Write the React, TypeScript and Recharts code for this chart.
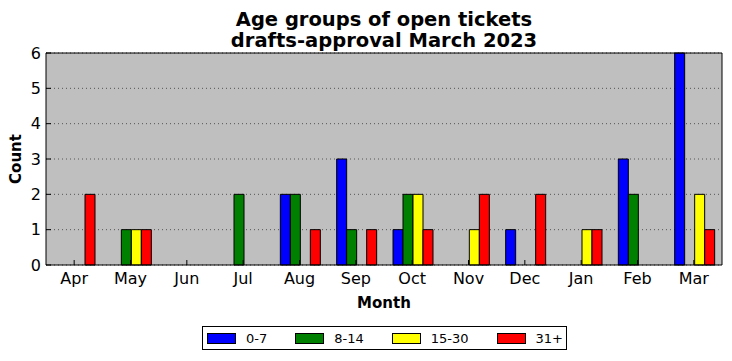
import React from 'react';
import { BarChart, Bar, XAxis, YAxis, CartesianGrid, Label } from 'recharts';

const months = ['Apr', 'May', 'Jun', 'Jul', 'Aug', 'Sep', 'Oct', 'Nov', 'Dec', 'Jan', 'Feb', 'Mar'];
const age0to7 = [0, 0, 0, 0, 2, 3, 1, 0, 1, 0, 3, 6];
const age8to14 = [0, 1, 0, 2, 2, 1, 2, 0, 0, 0, 2, 0];
const age15to30 = [0, 1, 0, 0, 0, 0, 2, 1, 0, 1, 0, 2];
const age31plus = [2, 1, 0, 0, 1, 1, 1, 2, 2, 1, 0, 1];
const yTicks = [0, 1, 2, 3, 4, 5, 6];

const series = [
  { key: 'a', name: '0-7', color: '#0000ff' },
  { key: 'b', name: '8-14', color: '#008000' },
  { key: 'c', name: '15-30', color: '#ffff00' },
  { key: 'd', name: '31+', color: '#ff0000' },
];

const data = months.map((m, i) => ({
  month: m,
  a: age0to7[i],
  b: age8to14[i],
  c: age15to30[i],
  d: age31plus[i],
}));

const font = 'DejaVu Sans, sans-serif';
const tickStyle = { fill: '#000', fontSize: 16, fontFamily: font };

const App: React.FC = () => {
  return (
    <div style={{ position: 'absolute', left: 0, top: 0, width: 732, height: 361, fontFamily: font, background: '#fff' }}>
      <div
        style={{
          position: 'absolute',
          left: 0,
          top: 9,
          width: 768,
          textAlign: 'center',
          fontWeight: 'bold',
          fontSize: 19.5,
          lineHeight: '21px',
          color: '#000',
        }}
      >
        Age groups of open tickets
        <br />
        drafts-approval March 2023
      </div>
      <BarChart
        width={732}
        height={361}
        data={data}
        margin={{ top: 52, right: 9, bottom: 56, left: 0 }}
        barCategoryGap={9}
        barGap={0}
      >
        <CartesianGrid fill="#bfbfbf" vertical={false} stroke="#555" strokeDasharray="1 3" />
        <XAxis
          dataKey="month"
          height={40}
          interval={0}
          axisLine={{ stroke: '#000' }}
          tickLine={{ stroke: '#000' }}
          tickSize={-5}
          tickMargin={13}
          tick={tickStyle}
        >
          <Label
            content={({ viewBox }: any) => (
              <text
                x={viewBox.x + viewBox.width / 2}
                y={308}
                textAnchor="middle"
                fontWeight="bold"
                fontSize={15}
                fontFamily={font}
                fill="#000"
              >
                Month
              </text>
            )}
          />
        </XAxis>
        <XAxis
          xAxisId="top"
          dataKey="month"
          orientation="top"
          height={1}
          interval={0}
          axisLine={{ stroke: '#000' }}
          tickLine={{ stroke: '#000' }}
          tickSize={-5}
          tick={false}
        />
        <YAxis
          width={46}
          domain={[0, 6]}
          ticks={yTicks}
          interval={0}
          axisLine={{ stroke: '#000' }}
          tickLine={{ stroke: '#000' }}
          tickSize={-5}
          tickMargin={10}
          tick={tickStyle}
        >
          <Label
            content={({ viewBox }: any) => (
              <text
                x={21}
                y={viewBox.y + viewBox.height / 2}
                transform={`rotate(-90 21 ${viewBox.y + viewBox.height / 2})`}
                textAnchor="middle"
                fontWeight="bold"
                fontSize={15}
                fontFamily={font}
                fill="#000"
              >
                Count
              </text>
            )}
          />
        </YAxis>
        <YAxis
          yAxisId="right"
          orientation="right"
          width={1}
          domain={[0, 6]}
          ticks={yTicks}
          interval={0}
          axisLine={{ stroke: '#000' }}
          tickLine={{ stroke: '#000' }}
          tickSize={-5}
          tick={false}
        />
        {series.map((s) => (
          <Bar
            key={s.key}
            dataKey={s.key}
            name={s.name}
            fill={s.color}
            stroke="#000"
            strokeWidth={1}
            isAnimationActive={false}
          />
        ))}
      </BarChart>
      <div
        style={{
          position: 'absolute',
          left: 202,
          top: 326,
          width: 363,
          height: 22,
          border: '1px solid #000',
          display: 'flex',
          alignItems: 'center',
          fontSize: 13,
          color: '#000',
        }}
      >
        {series.map((s, i) => (
          <div key={s.key} style={{ display: 'flex', alignItems: 'center', marginLeft: i === 0 ? 4 : 28 }}>
            <div style={{ width: 27, height: 9, background: s.color, border: '1px solid #000', marginRight: 10 }} />
            <span>{s.name}</span>
          </div>
        ))}
      </div>
    </div>
  );
};

export default App;
